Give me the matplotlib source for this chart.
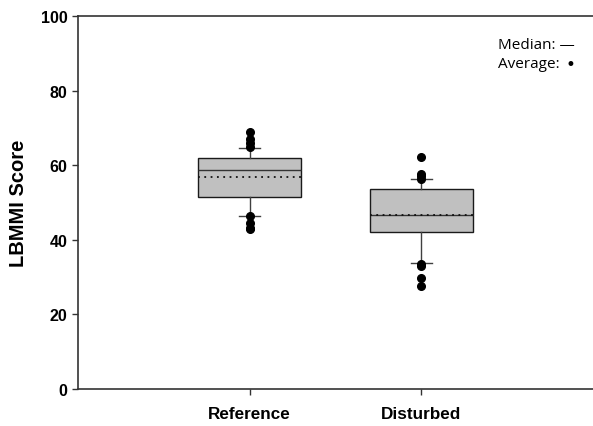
import matplotlib.pyplot as plt

groups = ["Reference", "Disturbed"]
q1 = [51.6, 42.0]
medians = [58.6, 46.6]
q3 = [62.0, 53.7]
whisker_lo = [46.5, 33.8]
whisker_hi = [64.6, 56.4]
means = [56.8, 46.6]
outliers = [
    [69.0, 67.0, 65.9, 65.0, 46.3, 44.6, 43.3, 42.8],
    [62.3, 57.7, 57.0, 56.4, 33.6, 32.9, 29.7, 27.5],
]

stats = []
for i, name in enumerate(groups):
    stats.append(dict(label=name, q1=q1[i], med=medians[i], q3=q3[i],
                      whislo=whisker_lo[i], whishi=whisker_hi[i],
                      mean=means[i], fliers=outliers[i]))

fig = plt.figure(figsize=(5.93, 4.27), dpi=100)
ax = fig.add_axes([0.1315, 0.0867, 0.8685, 0.8733])

ax.bxp(stats, positions=[1, 2], widths=0.6, patch_artist=True,
       showmeans=True, meanline=True, showfliers=True,
       boxprops=dict(facecolor="#c0c0c0", edgecolor="#1a1a1a", linewidth=1.0),
       medianprops=dict(color="#333333", linewidth=1.0),
       meanprops=dict(color="#111111", linestyle=(0, (1, 2.5)), linewidth=1.3),
       whiskerprops=dict(color="#404040", linewidth=1.0),
       capprops=dict(color="#404040", linewidth=1.0),
       capwidths=0.12,
       flierprops=dict(marker="o", markerfacecolor="black", markeredgecolor="black",
                       markersize=5.5))

ax.set_xlim(0, 3)
ax.set_ylim(0, 100)
ax.set_yticks([0, 20, 40, 60, 80, 100])
ax.set_xticks([1, 2])
ax.set_xticklabels(groups)

for s in ["left", "bottom", "top"]:
    ax.spines[s].set_color("#333333")
    ax.spines[s].set_linewidth(1.2)
ax.spines["right"].set_visible(False)

ax.tick_params(direction="out", length=4, width=1, color="#333333")
for lab in ax.get_xticklabels():
    lab.set_fontfamily("Liberation Sans")
    lab.set_fontweight("bold")
    lab.set_fontsize(12.3)
for lab in ax.get_yticklabels():
    lab.set_fontfamily("Liberation Sans")
    lab.set_fontweight("bold")
    lab.set_fontsize(11.5)
ax.tick_params(axis="x", pad=8)

ax.set_ylabel("LBMMI Score", fontfamily="Liberation Sans", fontweight="bold",
              fontsize=14.5, labelpad=9)

ax.text(0.8155, 0.925, "Median: \u2014", transform=ax.transAxes, ha="left",
        va="center", fontsize=11, family=["Open Sans", "DejaVu Sans"])
ax.text(0.8155, 0.872, "Average: ", transform=ax.transAxes, ha="left",
        va="center", fontsize=11, family=["Open Sans", "DejaVu Sans"])
ax.text(0.956, 0.872, "\u2022", transform=ax.transAxes, ha="center",
        va="center", fontsize=12, family=["DejaVu Sans"])

fig.savefig("out.png", dpi=100)
